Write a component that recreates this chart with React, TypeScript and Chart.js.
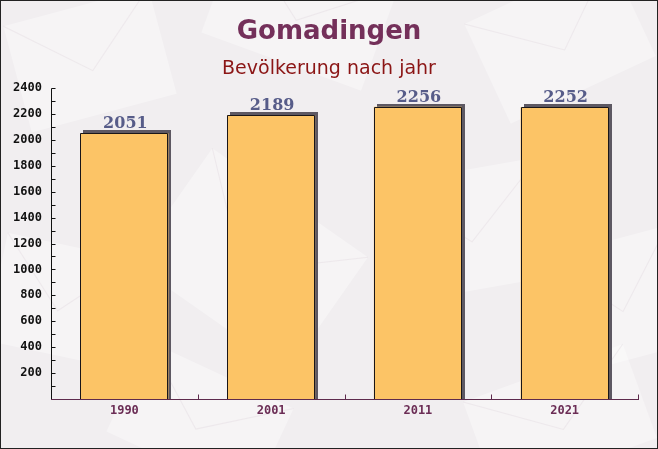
import React, { useEffect, useRef } from "react";
import { Chart, registerables } from "chart.js";

Chart.register(...registerables);

const years = ["1990", "2001", "2011", "2021"];
const population = [2051, 2189, 2256, 2252];
const yMin = 0;
const yMax = 2400;
const yStep = 100;
const yLabelStep = 200;
const titleText = "Gomadingen";
const subtitleText = "Bevölkerung nach jahr";

const W = 658;
const H = 449;

// faint decorative envelope shapes in the background: [cx, cy, w, h, angleDeg]
const envelopes: number[][] = [
  [90, 60, 150, 110, -15],
  [300, 10, 170, 110, 20],
  [560, 40, 160, 110, -25],
  [250, 260, 190, 140, 35],
  [470, 230, 160, 120, -10],
  [60, 300, 130, 110, 12],
  [620, 300, 130, 120, -15],
  [200, 420, 160, 100, 25],
  [560, 420, 170, 100, -20],
];

const decorPlugin = {
  id: "decor",
  beforeDraw(chart: any) {
    const ctx = chart.ctx;
    ctx.save();
    ctx.fillStyle = "#f1eef0";
    ctx.fillRect(0, 0, W, H);
    envelopes.forEach((e) => {
      ctx.save();
      ctx.translate(e[0], e[1]);
      ctx.rotate((e[4] * Math.PI) / 180);
      ctx.fillStyle = "rgba(255,255,255,0.35)";
      ctx.fillRect(-e[2] / 2, -e[3] / 2, e[2], e[3]);
      ctx.strokeStyle = "rgba(230,222,228,0.5)";
      ctx.beginPath();
      ctx.moveTo(-e[2] / 2, -e[3] / 2);
      ctx.lineTo(0, e[3] * 0.1);
      ctx.lineTo(e[2] / 2, -e[3] / 2);
      ctx.stroke();
      ctx.restore();
    });
    ctx.restore();
  },
  beforeDatasetsDraw(chart: any) {
    const ctx = chart.ctx;
    const meta = chart.getDatasetMeta(0);
    ctx.save();
    ctx.fillStyle = "#5d5862";
    meta.data.forEach((bar: any) => {
      const left = Math.round(bar.x - bar.width / 2);
      const top = Math.round(Math.min(bar.y, bar.base));
      const w = Math.round(bar.width);
      const h = Math.round(Math.abs(bar.base - bar.y));
      ctx.fillRect(left + 3, top - 3, w, h + 3);
    });
    ctx.restore();
  },
  afterDatasetsDraw(chart: any) {
    const ctx = chart.ctx;
    const area = chart.chartArea;
    const ys = chart.scales.y;
    const xs = chart.scales.x;
    const meta = chart.getDatasetMeta(0);
    ctx.save();
    // bar outlines (left, top, right)
    ctx.strokeStyle = "#1a1618";
    ctx.lineWidth = 1;
    meta.data.forEach((bar: any) => {
      const l = Math.round(bar.x - bar.width / 2) + 0.5;
      const r = Math.round(bar.x + bar.width / 2) - 0.5;
      const t = Math.round(bar.y) + 0.5;
      const b = Math.round(bar.base);
      ctx.beginPath();
      ctx.moveTo(l, b);
      ctx.lineTo(l, t);
      ctx.lineTo(r, t);
      ctx.lineTo(r, b);
      ctx.stroke();
    });
    // y axis line + ticks
    ctx.strokeStyle = "#111";
    ctx.beginPath();
    const ax = Math.round(area.left) + 0.5;
    ctx.moveTo(ax, Math.round(area.top) + 0.5);
    ctx.lineTo(ax, Math.round(area.bottom) + 0.5);
    for (let v = yMin; v <= yMax; v += yStep) {
      const py = Math.round(ys.getPixelForValue(v)) + 0.5;
      ctx.moveTo(ax, py);
      ctx.lineTo(ax + 4, py);
    }
    ctx.stroke();
    // x axis line + ticks
    ctx.strokeStyle = "#5e2a4c";
    ctx.beginPath();
    const by = Math.round(area.bottom) + 0.5;
    ctx.moveTo(Math.round(area.left), by);
    ctx.lineTo(Math.round(area.right) + 1, by);
    const n = years.length;
    const cw = xs.getPixelForValue(1) - xs.getPixelForValue(0);
    for (let i = 0; i < n; i++) {
      const bx = Math.round(xs.getPixelForValue(i) + cw / 2) + 0.5;
      ctx.moveTo(bx, by);
      ctx.lineTo(bx, by - 5);
    }
    ctx.stroke();
    // data labels
    ctx.fillStyle = "#575c89";
    ctx.font = "bold 16px 'DejaVu Serif'";
    ctx.textAlign = "center";
    ctx.textBaseline = "alphabetic";
    meta.data.forEach((bar: any, i: number) => {
      ctx.fillText(String(population[i]), bar.x + 1, bar.y - 5);
    });
    // titles
    ctx.fillStyle = "#74305a";
    ctx.font = "bold 26px 'DejaVu Sans'";
    ctx.textBaseline = "middle";
    ctx.fillText(titleText, W / 2, 32);
    ctx.fillStyle = "#8b1515";
    ctx.font = "19px 'DejaVu Sans'";
    ctx.fillText(subtitleText, W / 2, 69);
    // frame
    ctx.strokeStyle = "#222";
    ctx.strokeRect(0.5, 0.5, W - 1, H - 1);
    ctx.restore();
  },
};

export default function App() {
  const ref = useRef<HTMLCanvasElement | null>(null);
  useEffect(() => {
    if (!ref.current) return;
    const chart = new Chart(ref.current, {
      type: "bar",
      data: {
        labels: years,
        datasets: [
          {
            data: population,
            backgroundColor: "#fcc466",
            borderWidth: 0,
            categoryPercentage: 1,
            barPercentage: 0.6,
          },
        ],
      },
      options: {
        responsive: false,
        animation: false,
        devicePixelRatio: 1,
        layout: { padding: { top: 88, right: 20, left: 0, bottom: 0 } },
        plugins: {
          legend: { display: false },
          tooltip: { enabled: false },
          title: { display: false },
        },
        scales: {
          x: {
            grid: { display: false, drawTicks: false },
            border: { display: false },
            ticks: {
              color: "#6b2d55",
              font: { family: "'DejaVu Sans Mono'", weight: "bold", size: 12 },
              padding: 5,
              maxRotation: 0,
            },
            afterFit: (s: any) => {
              s.height = 50;
            },
          },
          y: {
            min: yMin,
            max: yMax,
            grid: { display: false, drawTicks: false },
            border: { display: false },
            ticks: {
              stepSize: yStep,
              autoSkip: false,
              color: "#111",
              font: { family: "'DejaVu Sans Mono'", weight: "bold", size: 12 },
              padding: 9,
              callback: (v: any) => (v !== 0 && v % yLabelStep === 0 ? String(v) : ""),
            },
            afterFit: (s: any) => {
              s.width = 51;
            },
          },
        },
      },
      plugins: [decorPlugin],
    });
    return () => chart.destroy();
  }, []);
  return (
    <div style={{ position: "fixed", left: 0, top: 0, width: W, height: H }}>
      <canvas ref={ref} width={W} height={H} style={{ width: W, height: H, display: "block" }} />
    </div>
  );
}
